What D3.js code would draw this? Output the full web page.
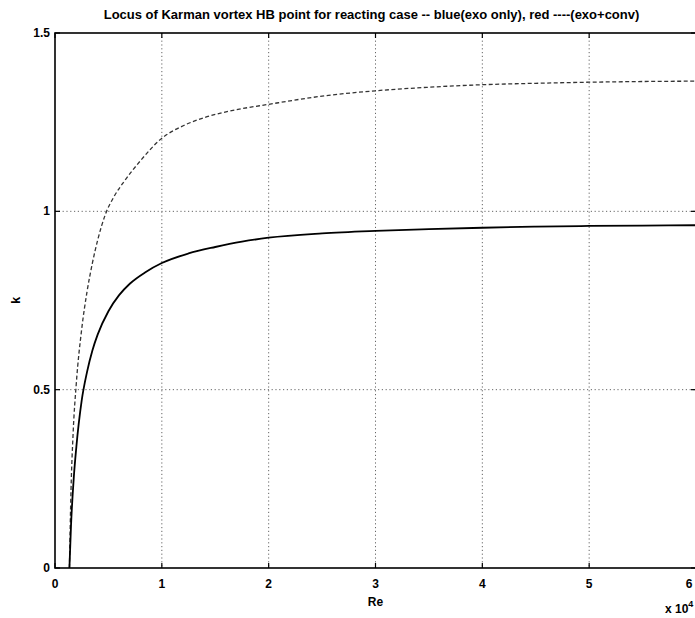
<!DOCTYPE html>
<html>
<head>
<meta charset="utf-8">
<script src="https://cdn.jsdelivr.net/npm/d3@7/dist/d3.min.js"></script>
<style>
  html, body { margin: 0; padding: 0; background: #fff; }
  svg { display: block; font-family: "Liberation Sans", Arial, Helvetica, sans-serif; }
</style>
</head>
<body>
<svg id="chart" width="695" height="618"></svg>
<script>
// Hopf-bifurcation locus of the Karman vortex street, reacting case.
// Re is given in units of 1e4.

// exo only (solid line)
const reExo  = [0.135, 0.15, 0.175, 0.2, 0.25, 0.3, 0.35, 0.4, 0.5, 0.6, 0.7, 0.85, 1.0, 1.25, 1.5, 1.75, 2.0, 2.5, 3.0, 3.5, 4.0, 4.5, 5.0, 5.5, 6.0];
const kExo   = [0.0, 0.12, 0.25, 0.34, 0.47, 0.55, 0.61, 0.655, 0.72, 0.765, 0.797, 0.83, 0.855, 0.882, 0.900, 0.915, 0.926, 0.938, 0.945, 0.950, 0.954, 0.957, 0.959, 0.960, 0.961];

// exo + conv (dashed line)
const reConv = [0.135, 0.15, 0.17, 0.2, 0.25, 0.3, 0.35, 0.4, 0.47, 0.55, 0.65, 0.8, 1.0, 1.2, 1.4, 1.7, 2.0, 2.5, 3.0, 3.5, 4.0, 4.5, 5.0, 5.5, 6.0];
const kConv  = [0.0, 0.22, 0.38, 0.52, 0.67, 0.775, 0.855, 0.92, 0.99, 1.04, 1.085, 1.142, 1.205, 1.24, 1.263, 1.285, 1.30, 1.323, 1.338, 1.348, 1.355, 1.359, 1.362, 1.364, 1.365];

const xTicks   = [0, 1, 2, 3, 4, 5, 6];
const yTicks   = [0, 0.5, 1, 1.5];
const xTickLabels = ["0", "1", "2", "3", "4", "5", "6"];
const yTickLabels = ["0", "0.5", "1", "1.5"];

const titleText = "Locus of Karman vortex HB point for reacting case -- blue(exo only), red ----(exo+conv)";
const xLabel = "Re";
const yLabel = "k";

const svg = d3.select("#chart");
const m = { left: 55, top: 33, right: 696, bottom: 568 };

const x = d3.scaleLinear().domain([0, 6]).range([m.left, m.right]);
const y = d3.scaleLinear().domain([0, 1.5]).range([m.bottom, m.top]);

// dotted grid
const grid = svg.append("g").attr("stroke", "#666").attr("stroke-width", 1)
  .attr("stroke-dasharray", "1.2,2.6").attr("fill", "none");
grid.selectAll("line.gx").data(xTicks.slice(1, -1)).join("line")
  .attr("x1", d => x(d)).attr("x2", d => x(d))
  .attr("y1", m.top).attr("y2", m.bottom);
grid.selectAll("line.gy").data(yTicks.slice(1, -1)).join("line")
  .attr("x1", m.left).attr("x2", m.right)
  .attr("y1", d => y(d)).attr("y2", d => y(d));

// frame
svg.append("rect").attr("x", m.left).attr("y", m.top)
  .attr("width", m.right - m.left).attr("height", m.bottom - m.top)
  .attr("stroke", "#000").attr("stroke-width", 1.6).attr("fill", "none");

// inward ticks on all sides
const tl = 5;
const ticks = svg.append("g").attr("stroke", "#000").attr("stroke-width", 1.2);
xTicks.forEach(t => {
  ticks.append("line").attr("x1", x(t)).attr("x2", x(t)).attr("y1", m.bottom).attr("y2", m.bottom - tl);
  ticks.append("line").attr("x1", x(t)).attr("x2", x(t)).attr("y1", m.top).attr("y2", m.top + tl);
});
yTicks.forEach(t => {
  ticks.append("line").attr("x1", m.left).attr("x2", m.left + tl).attr("y1", y(t)).attr("y2", y(t));
  ticks.append("line").attr("x1", m.right).attr("x2", m.right - tl).attr("y1", y(t)).attr("y2", y(t));
});

// tick labels
const lab = svg.append("g").attr("font-size", 12).attr("font-weight", "bold").attr("fill", "#000");
lab.selectAll("text.xt").data(xTicks).join("text")
  .attr("x", d => Math.min(x(d), 689)).attr("y", m.bottom + 20).attr("text-anchor", "middle")
  .text((d, i) => xTickLabels[i]);
lab.selectAll("text.yt").data(yTicks).join("text")
  .attr("x", m.left - 5).attr("y", d => y(d) + 4).attr("text-anchor", "end")
  .text((d, i) => yTickLabels[i]);

// curves
const lineGen = (xs, ys) => d3.line().curve(d3.curveMonotoneX)
  .x((d, i) => x(xs[i])).y((d, i) => y(ys[i]))(xs);

svg.append("path").attr("d", lineGen(reConv, kConv))
  .attr("fill", "none").attr("stroke", "#333").attr("stroke-width", 1.3)
  .attr("stroke-dasharray", "4,2.5");
svg.append("path").attr("d", lineGen(reExo, kExo))
  .attr("fill", "none").attr("stroke", "#000").attr("stroke-width", 1.8);

// title and axis labels
svg.append("text").attr("x", (m.left + m.right) / 2 - 4).attr("y", 19)
  .attr("text-anchor", "middle").attr("font-size", 13).attr("font-weight", "bold")
  .text(titleText);
svg.append("text").attr("x", (m.left + m.right) / 2).attr("y", 606)
  .attr("text-anchor", "middle").attr("font-size", 12).attr("font-weight", "bold").text(xLabel);
svg.append("text").attr("transform", `translate(20,${(m.top + m.bottom) / 2}) rotate(-90)`)
  .attr("text-anchor", "middle").attr("font-size", 13).attr("font-weight", "bold").text(yLabel);

const expo = svg.append("text").attr("x", 665).attr("y", 613).attr("font-size", 12).attr("font-weight", "bold");
expo.append("tspan").text("x 10");
expo.append("tspan").attr("dy", -6).attr("font-size", 9).text("4");
</script>
</body>
</html>
